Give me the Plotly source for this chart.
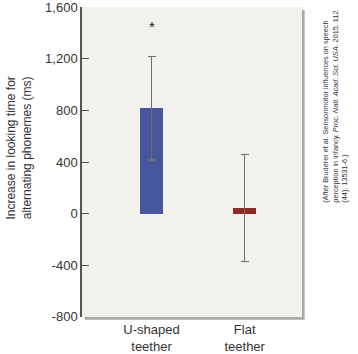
import plotly.graph_objects as go

categories = ["U-shaped<br>teether", "Flat<br>teether"]
positions = [0, 1]
means = [815, 45]
errors = [400, 415]
colors = ["#46579e", "#8c2a25"]
ytickvals = [-800, -400, 0, 400, 800, 1200, 1600]
yticktext = ["-800", "-400", "0", "400", "800", "1,200", "1,600"]
star_y = 1450

fig = go.Figure()
fig.add_trace(go.Bar(
    x=positions, y=means, width=0.25,
    marker=dict(color=colors, line=dict(width=0)),
    error_y=dict(type="data", array=errors, visible=True, color="#6e6e6e", thickness=1.3, width=4),
    showlegend=False,
))

fig.add_annotation(x=0, y=star_y, xref="x", yref="y", text="*", showarrow=False,
                   font=dict(size=15, color="#222", family="Liberation Sans"))

# background + shadow
fig.add_shape(type="rect", xref="paper", yref="paper", x0=0.012, x1=1.012, y0=-0.009, y1=0.99,
              fillcolor="#a9a9a6", line=dict(width=0), layer="below")
fig.add_shape(type="rect", xref="paper", yref="paper", x0=0, x1=1, y0=0, y1=1,
              fillcolor="#f2f1ed", line=dict(width=0), layer="below")

fig.add_annotation(x=-0.284, y=0.545, xref="paper", yref="paper",
                   xanchor="center", yanchor="middle",
                   text="Increase in looking time for<br>alternating phonemes (ms)",
                   textangle=-90, showarrow=False,
                   font=dict(size=12, color="#333", family="Liberation Sans"))

fig.add_annotation(x=1.152, y=0.68, xref="paper", yref="paper",
                   xanchor="center", yanchor="middle",
                   text="(After Bruderer et al. Sensorimotor influences on speech<br>"
                        "perception in infancy. <i>Proc. Natl. Acad. Sci. USA</i>. 2015, 112<br>"
                        "(44), 13531-6.)",
                   textangle=-90, showarrow=False, align="left",
                   font=dict(size=7.3, color="#333", family="Liberation Sans"))

fig.update_xaxes(range=[-0.746, 1.615], tickvals=positions, ticktext=categories,
                 showline=False, showgrid=False, zeroline=False, ticks="",
                 ticklabelstandoff=3, automargin=False,
                 tickfont=dict(size=13, color="#333", family="Liberation Sans"))
fig.update_yaxes(range=[-801, 1601], tickvals=ytickvals, ticktext=yticktext,
                 showline=True, linecolor="#555", linewidth=1.5,
                 ticks="inside", ticklen=7, tickcolor="#555", tickwidth=1,
                 showgrid=False, zeroline=False, automargin=False,
                 ticklabeloverflow="allow",
                 tickfont=dict(size=13, color="#333", family="Liberation Sans"))

fig.update_layout(width=358, height=354, margin=dict(l=82, r=56, t=7, b=37),
                  paper_bgcolor="white", plot_bgcolor="rgba(0,0,0,0)",
                  bargap=0)
fig.write_html("out.html")
